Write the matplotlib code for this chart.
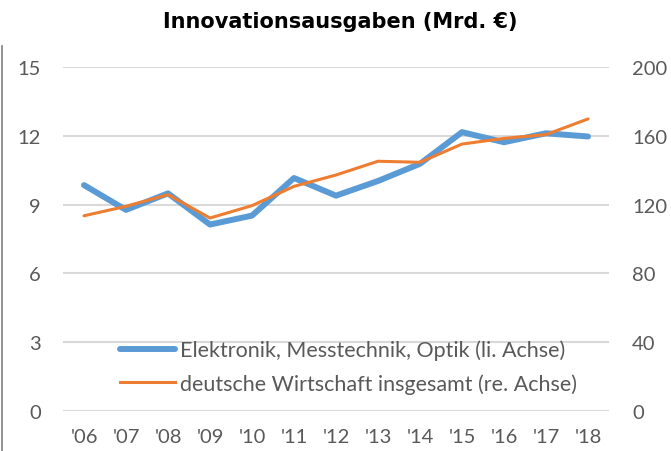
import numpy as np
from matplotlib import pyplot as plt
from matplotlib.lines import Line2D

plt.rcParams["font.family"] = ["Lato", "DejaVu Sans"]

years = ["'06", "'07", "'08", "'09", "'10", "'11", "'12", "'13", "'14", "'15", "'16", "'17", "'18"]
elektronik = [9.85, 8.77, 9.49, 8.13, 8.52, 10.16, 9.39, 10.03, 10.78, 12.16, 11.72, 12.11, 11.97]
wirtschaft = [113.5, 119.0, 125.8, 112.2, 119.4, 130.6, 137.2, 145.2, 144.6, 155.2, 158.5, 160.7, 169.8]

blue = "#5B9BD5"
orange = "#ED7D31"
grid_col = "#D9D9D9"
text_col = "#595959"

fig = plt.figure(figsize=(6.71, 4.52), dpi=100)
ax = fig.add_axes([63 / 671, 40 / 452, 546 / 671, 344 / 452])
ax2 = ax.twinx()

x = np.arange(len(years))
ax.plot(x, elektronik, color=blue, lw=4.3, solid_capstyle="round", zorder=3)
ax2.plot(x, wirtschaft, color=orange, lw=2.2, solid_capstyle="round", zorder=3)

ax.set_xlim(-0.5, len(years) - 0.5)
ax.set_ylim(0, 15)
ax2.set_ylim(0, 200)
ax.set_yticks(np.arange(0, 16, 3))
ax2.set_yticks(np.arange(0, 201, 40))
ax.set_xticks(x)
ax.set_xticklabels(years)

for s in ax.spines.values():
    s.set_visible(False)
for s in ax2.spines.values():
    s.set_visible(False)

ax.grid(axis="y", color=grid_col, lw=1.5)
ax.set_axisbelow(True)
ax.tick_params(axis="both", length=0, labelsize=14.5, labelcolor=text_col)
ax.tick_params(axis="y", pad=16)
ax.tick_params(axis="x", pad=12)
ax2.tick_params(axis="y", length=0, labelsize=14.5, labelcolor=text_col, pad=16.5)

fig.text(340 / 671, 1 - 22 / 452, "Innovationsausgaben (Mrd. €)", ha="center", va="center",
         fontsize=15, fontweight="bold", family="DejaVu Sans", color="black")

handles = [Line2D([], [], color=blue, lw=4.3, solid_capstyle="round"),
           Line2D([], [], color=orange, lw=2.2)]
labels = ["Elektronik, Messtechnik, Optik (li. Achse)",
          "deutsche Wirtschaft insgesamt (re. Achse)"]
ax.legend(handles, labels, loc="center left", bbox_to_anchor=(0.104, 0.129),
          frameon=False, fontsize=15.5, labelcolor=text_col, handlelength=2.55,
          handletextpad=0.23, labelspacing=0.6, borderpad=0, borderaxespad=0)

# left border bracket
fig.add_artist(Line2D([2 / 671, 2 / 671], [1 - 47 / 452, 0], color="#7F7F7F", lw=1.2))

plt.savefig("out.png", dpi=100)
